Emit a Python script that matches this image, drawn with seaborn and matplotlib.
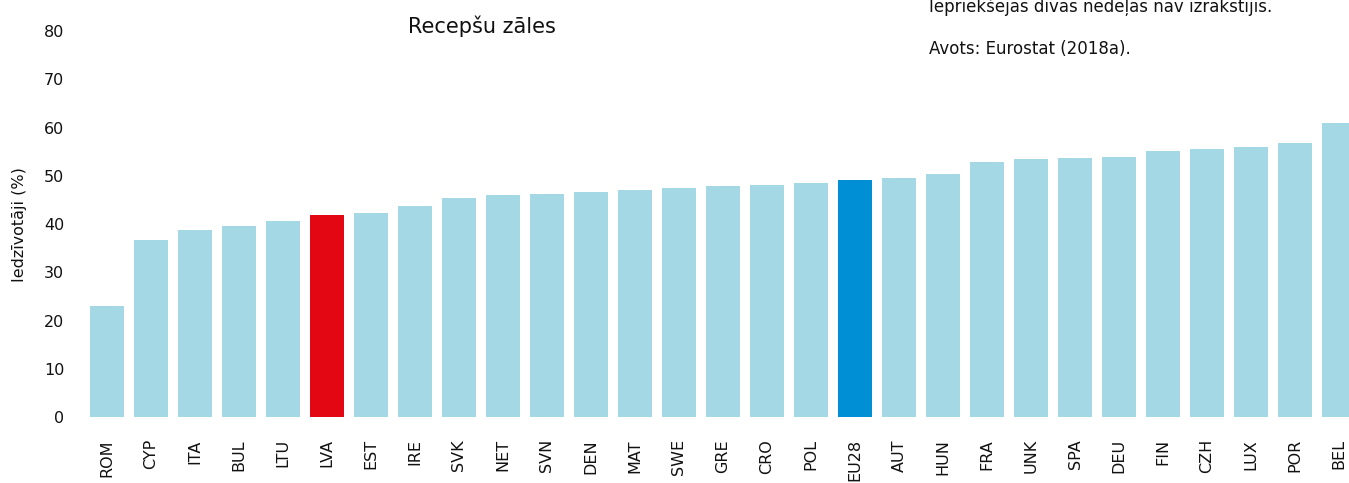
import matplotlib
matplotlib.use("Agg")
import matplotlib.pyplot as plt
import seaborn as sns
import pandas as pd

countries = ["ROM", "CYP", "ITA", "BUL", "LTU", "LVA", "EST", "IRE", "SVK", "NET",
             "SVN", "DEN", "MAT", "SWE", "GRE", "CRO", "POL", "EU28", "AUT", "HUN",
             "FRA", "UNK", "SPA", "DEU", "FIN", "CZH", "LUX", "POR", "BEL"]
values = [23.0, 36.7, 38.8, 39.7, 40.6, 41.9, 42.3, 43.7, 45.4, 46.0,
          46.2, 46.6, 47.0, 47.5, 47.9, 48.1, 48.5, 49.1, 49.5, 50.4,
          52.8, 53.5, 53.7, 53.9, 55.1, 55.5, 56.0, 56.8, 61.0]
y_ticks = [0, 10, 20, 30, 40, 50, 60, 70, 80]

base_color = "#A4D8E5"
highlight = {"LVA": "#E30613", "EU28": "#008FD5"}
palette = {c: highlight.get(c, base_color) for c in countries}

df = pd.DataFrame({"country": countries, "value": values})

sns.set_theme(style="white")
plt.rcParams["font.family"] = ["DejaVu Sans"]
plt.rcParams["text.color"] = "#111111"
plt.rcParams["xtick.color"] = "#111111"
plt.rcParams["ytick.color"] = "#111111"
plt.rcParams["axes.labelcolor"] = "#111111"

fig = plt.figure(figsize=(13.49, 4.83), dpi=100)
ax = fig.add_axes([0.063, 0.1366, 0.9459, 0.799])

sns.barplot(data=df, x="country", y="value", hue="country", palette=palette,
            order=countries, width=0.77, saturation=1, legend=False,
            linewidth=0, ax=ax)

ax.set_xlim(-0.5, len(countries) - 0.5)
ax.set_ylim(0, 80)
ax.set_yticks(y_ticks)
ax.set_yticklabels([str(t) for t in y_ticks], fontsize=11.5)
ax.tick_params(axis="x", labelrotation=90, labelsize=11.5, length=0, pad=16)
ax.tick_params(axis="y", length=0, pad=15)
for lbl in ax.get_xticklabels():
    lbl.set_verticalalignment("top")
ax.set_xlabel("")
ax.set_ylabel("Iedzīvotāji (%)", fontsize=11.5, labelpad=12)
sns.despine(ax=ax, left=True, bottom=True)
ax.grid(False)

fig.text(0.3573, 0.9317, "Recepšu zāles", fontsize=15, ha="center", va="baseline")
fig.text(0.689, 0.976, "Iepriekšējās divās nedēļās nav izrakstījis.", fontsize=12,
         ha="left", va="baseline")
fig.text(0.689, 0.888, "Avots: Eurostat (2018a).", fontsize=12, ha="left", va="baseline")

fig.savefig("out.png", dpi=100)
